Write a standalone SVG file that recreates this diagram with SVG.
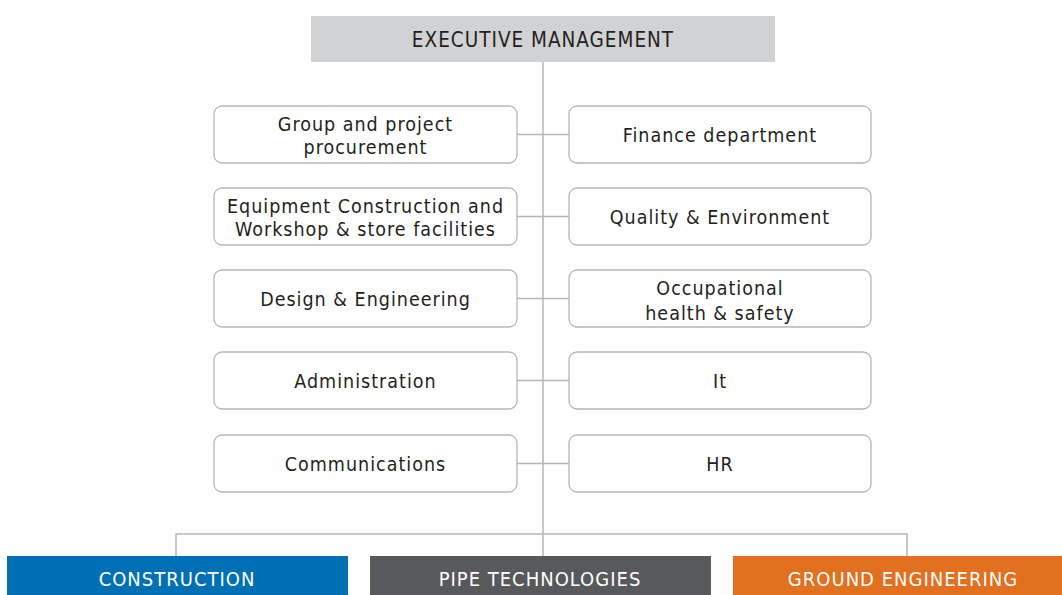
<svg xmlns="http://www.w3.org/2000/svg" width="1062" height="595" viewBox="0 0 1062 595">
<style>
.box{fill:#fff;stroke:#b5b6b8;stroke-width:1.3}
.t{font-family:"DejaVu Sans Condensed","Liberation Sans",sans-serif;font-size:19.5px;fill:#231f20;text-anchor:middle;letter-spacing:1px}
.w{font-family:"DejaVu Sans Condensed","Liberation Sans",sans-serif;font-size:20px;fill:#fff;text-anchor:middle;letter-spacing:1px}
.ln{stroke:#b5b6b8;stroke-width:1.5;fill:none}
</style>
<rect width="1062" height="595" fill="#fff"/>
<g id="connectors">
<path class="ln" d="M543 62V556M517 134.5H569M517 216.5H569M517 298.5H569M517 380.5H569M517 463.5H569M176 556V534H907V556"/>
</g>
<g id="exec"><rect x="311" y="16" width="464" height="46" fill="#d1d2d4"/><text class="t" x="543" y="47" style="font-size:20.5px">EXECUTIVE MANAGEMENT</text></g>
<g id="procurement"><rect class="box" x="214" y="106" width="303" height="57" rx="8"/><text class="t" x="365.5" y="131">Group and project</text><text class="t" x="365.5" y="154">procurement</text></g>
<g id="finance"><rect class="box" x="569" y="106" width="302" height="57" rx="8"/><text class="t" x="720" y="142">Finance department</text></g>
<g id="equipment"><rect class="box" x="214" y="188" width="303" height="57" rx="8"/><text class="t" x="365.5" y="213">Equipment Construction and</text><text class="t" x="365.5" y="236">Workshop &amp; store facilities</text></g>
<g id="quality"><rect class="box" x="569" y="188" width="302" height="57" rx="8"/><text class="t" x="720" y="224">Quality &amp; Environment</text></g>
<g id="design"><rect class="box" x="214" y="270" width="303" height="57" rx="8"/><text class="t" x="365.5" y="306">Design &amp; Engineering</text></g>
<g id="ohs"><rect class="box" x="569" y="270" width="302" height="57" rx="8"/><text class="t" x="720" y="295">Occupational</text><text class="t" x="720" y="320">health &amp; safety</text></g>
<g id="admin"><rect class="box" x="214" y="352" width="303" height="57" rx="8"/><text class="t" x="365.5" y="388">Administration</text></g>
<g id="it"><rect class="box" x="569" y="352" width="302" height="57" rx="8"/><text class="t" x="720" y="388">It</text></g>
<g id="comms"><rect class="box" x="214" y="435" width="303" height="57" rx="8"/><text class="t" x="365.5" y="471">Communications</text></g>
<g id="hr"><rect class="box" x="569" y="435" width="302" height="57" rx="8"/><text class="t" x="720" y="471">HR</text></g>
<g id="construction"><rect x="7" y="556" width="341" height="39" fill="#0070b4"/><text class="w" x="177" y="586">CONSTRUCTION</text></g>
<g id="pipe"><rect x="370" y="556" width="341" height="39" fill="#58595b"/><text class="w" x="540" y="586">PIPE TECHNOLOGIES</text></g>
<g id="ground"><rect x="733" y="556" width="329" height="39" fill="#e2701e"/><text class="w" x="903" y="586">GROUND ENGINEERING</text></g>
</svg>
